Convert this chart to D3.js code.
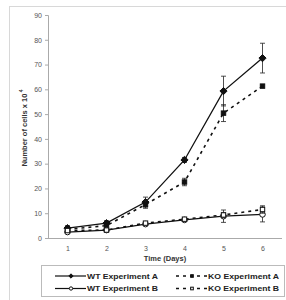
<!DOCTYPE html>
<html>
<head>
<meta charset="utf-8">
<script src="https://cdn.jsdelivr.net/npm/d3@7"></script>
<style>
  body { margin: 0; background: #fff; }
  svg text { font-family: Arial, "Liberation Sans", sans-serif; }
</style>
</head>
<body>
<div id="chart"></div>
<script>
// data
var days = [1, 2, 3, 4, 5, 6];
var yTicks = [0, 10, 20, 30, 40, 50, 60, 70, 80, 90];

var wtA = [4, 6, 14.5, 31.5, 59.3, 72.6];
var wtAErr = [1, 1, 2, 1, 6, 6];
var koA = [3.5, 5, 13.5, 22.6, 50.4, 61.3];
var koAErr = [0.5, 0.5, 1.5, 1.5, 3.4, 0.5];
var wtB = [2.4, 3.2, 5.6, 7.3, 8.8, 9.5];
var wtBErr = [0.5, 0.5, 0.5, 0.5, 2.5, 3];
var koB = [3, 3.2, 6, 7.6, 9.3, 11.5];
var koBErr = [0.5, 0.5, 0.5, 0.5, 1, 1.5];

var seriesNames = ['WT Experiment A', 'KO Experiment A', 'WT Experiment B', 'KO Experiment B'];

var series = [
	{name: seriesNames[0], values: wtA, err: wtAErr, dash: null, marker: 'diamond', fill: '#111'},
	{name: seriesNames[1], values: koA, err: koAErr, dash: '3,4', marker: 'square', fill: '#111'},
	{name: seriesNames[2], values: wtB, err: wtBErr, dash: null, marker: 'circle', fill: '#fff'},
	{name: seriesNames[3], values: koB, err: koBErr, dash: '3,4', marker: 'square', fill: '#fff'}
];

var W = 286, H = 300;
var svg = d3.select('#chart').append('svg')
	.attr('width', W).attr('height', H);

// outer frame
svg.append('rect')
	.attr('x', 9.5).attr('y', 6.5).attr('width', 280).attr('height', 300)
	.attr('fill', 'none').attr('stroke', '#d8d8d8');

var x = d3.scalePoint().domain(days).range([48, 282]).padding(0.5);
var y = d3.scaleLinear().domain([0, 90]).range([238, 15]);

// axes
var yAxis = svg.append('g')
	.attr('transform', 'translate(48,0)')
	.call(d3.axisLeft(y).tickValues(yTicks).tickSize(3).tickPadding(3));
var xAxis = svg.append('g')
	.attr('transform', 'translate(0,238)')
	.call(d3.axisBottom(x).tickSize(0).tickPadding(8));

[yAxis, xAxis].forEach(function(g) {
	g.select('.domain').attr('stroke', '#aaa');
	g.selectAll('.tick line').attr('stroke', '#aaa');
	g.selectAll('.tick text').attr('fill', '#555').style('font-size', '7px');
});
xAxis.select('.domain').attr('d', 'M48,0.5H282');

svg.append('text')
	.attr('x', 165).attr('y', 261)
	.attr('text-anchor', 'middle')
	.style('font-size', '7.5px').style('font-weight', 'bold').attr('fill', '#333')
	.text('Time (Days)');

var ytitle = svg.append('text')
	.attr('transform', 'translate(27,128) rotate(-90)')
	.attr('text-anchor', 'middle')
	.style('font-size', '7.5px').style('font-weight', 'bold').attr('fill', '#333');
ytitle.append('tspan').text('Number of cells x 10');
ytitle.append('tspan').attr('dy', -4).style('font-size', '5px').text('  4');

function drawMarker(g, type, fill, cx, cy, k) {
	k = k || 1;
	if ('diamond' === type) {
		var r = 3.6 * k;
		g.append('path')
			.attr('d', 'M0,' + (-r) + 'L' + r + ',0L0,' + r + 'L' + (-r) + ',0Z')
			.attr('transform', 'translate(' + cx + ',' + cy + ')')
			.attr('fill', fill).attr('stroke', '#111').attr('stroke-width', 1);
	} else if ('circle' === type) {
		g.append('circle')
			.attr('cx', cx).attr('cy', cy).attr('r', 2.8 * k)
			.attr('fill', fill).attr('stroke', '#111').attr('stroke-width', 1);
	} else {
		var h = 2.2 * k;
		g.append('rect')
			.attr('x', cx - h).attr('y', cy - h).attr('width', 2 * h).attr('height', 2 * h)
			.attr('fill', fill).attr('stroke', '#111').attr('stroke-width', 1);
	}
}

var line = d3.line()
	.x(function(d, i) {return x(days[i]);})
	.y(function(d) {return y(d);});

series.forEach(function(s) {
	var g = svg.append('g');
	g.append('path')
		.attr('d', line(s.values))
		.attr('fill', 'none').attr('stroke', '#111')
		.attr('stroke-width', s.dash ? 1.6 : 1.3)
		.attr('stroke-dasharray', s.dash);
	s.values.forEach(function(v, i) {
		var cx = x(days[i]);
		var e = s.err[i];
		if (e >= 1) {
			g.append('line').attr('x1', cx).attr('x2', cx)
				.attr('y1', y(v + e)).attr('y2', y(v - e))
				.attr('stroke', '#222').attr('stroke-width', 0.8);
			[v + e, v - e].forEach(function(t) {
				g.append('line').attr('x1', cx - 2.5).attr('x2', cx + 2.5)
					.attr('y1', y(t)).attr('y2', y(t))
					.attr('stroke', '#222').attr('stroke-width', 0.8);
			});
		}
		drawMarker(g, s.marker, s.fill, cx, y(v));
	});
});

// legend
var legend = svg.append('g');
legend.append('rect')
	.attr('x', 41.5).attr('y', 265.5).attr('width', 243).attr('height', 31)
	.attr('fill', '#fff').attr('stroke', '#bbb');

series.forEach(function(s, i) {
	var col = i % 2, row = Math.floor(i / 2);
	var lx = col ? 176 : 55;
	var ly = row ? 288.5 : 276;
	legend.append('line')
		.attr('x1', lx).attr('x2', lx + 31).attr('y1', ly).attr('y2', ly)
		.attr('stroke', '#111').attr('stroke-width', s.dash ? 1.4 : 1.2)
		.attr('stroke-dasharray', s.dash ? '3,4' : null);
	drawMarker(legend, s.marker, s.fill, lx + 16, ly, 0.6);
	legend.append('text')
		.attr('x', lx + 32).attr('y', ly + 2.8)
		.style('font-size', '8px').style('font-weight', 'bold').attr('fill', '#222')
		.attr('textLength', 71).attr('lengthAdjust', 'spacingAndGlyphs')
		.text(s.name);
});
</script>
</body>
</html>
